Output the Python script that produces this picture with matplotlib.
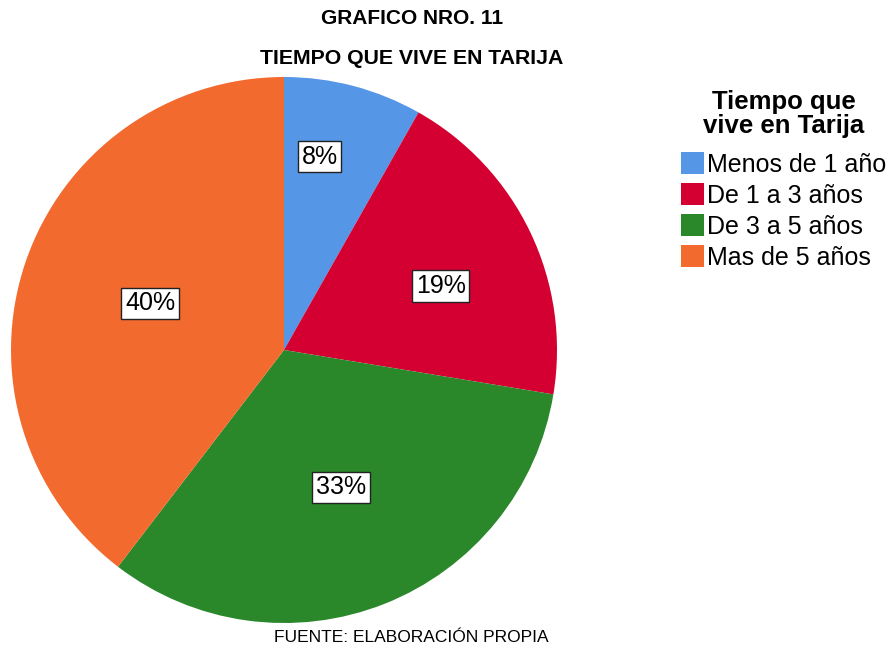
import numpy as np
import matplotlib.pyplot as plt
from matplotlib.patches import Patch

plt.rcParams['font.family'] = ['Liberation Sans', 'DejaVu Sans']

# datos (porcentajes)
categorias = ['Menos de 1 año', 'De 1 a 3 años', 'De 3 a 5 años', 'Mas de 5 años']
porcentajes = [8.2, 19.4, 32.8, 39.6]
colores = ['#5596E6', '#D50032', '#2A872A', '#F26A2D']
# posicion de las etiquetas: fraccion del radio y desplazamiento angular (grados)
radio_etiqueta = [0.72, 0.62, 0.545, 0.52]
desvio_angulo = [4.3, -3.4, 1.0, -0.5]

fig = plt.figure(figsize=(8.93, 6.51), dpi=100)
ax = fig.add_axes([11 / 893, 28 / 651, 546 / 893, 546 / 651])

wedges, _ = ax.pie(porcentajes, colors=colores, startangle=90, counterclock=False,
                   radius=1, wedgeprops=dict(linewidth=0))
ax.set_xlim(-1, 1)
ax.set_ylim(-1, 1)
ax.set_aspect('equal')
ax.axis('off')

# etiquetas con caja blanca
for w, p, r, d in zip(wedges, porcentajes, radio_etiqueta, desvio_angulo):
    ang = np.deg2rad((w.theta1 + w.theta2) / 2 + d)
    ax.text(r * np.cos(ang), r * np.sin(ang), f"{round(p)}%", ha='center', va='center',
            fontsize=18,
            bbox=dict(boxstyle='square,pad=0.15', fc='white', ec='#222222', lw=1.0))

fig.text(412 / 893, 1 - 18 / 651, 'GRAFICO NRO. 11', ha='center', va='center',
         fontsize=15, fontweight='bold')
fig.text(412 / 893, 1 - 58 / 651, 'TIEMPO QUE VIVE EN TARIJA', ha='center', va='center',
         fontsize=15.3, fontweight='bold')
fig.text(411 / 893, 1 - 638 / 651, 'FUENTE: ELABORACIÓN PROPIA', ha='center', va='center',
         fontsize=12.5)

handles = [Patch(facecolor=c, edgecolor='none') for c in colores]
leg = fig.legend(handles, categorias, title='Tiempo que\nvive en Tarija',
                 loc='upper left', bbox_to_anchor=(681 / 893, 1 - 90 / 651),
                 frameon=False, fontsize=18, title_fontsize=18.5,
                 handlelength=0.9, handleheight=1.0, handletextpad=0.15,
                 labelspacing=0.25, borderpad=0, borderaxespad=0)
leg.get_title().set_fontweight('bold')
leg.get_title().set_multialignment('center')
leg.get_title().set_linespacing(1.0)
leg._legend_box.sep = 10

fig.savefig('out.png', dpi=100)
